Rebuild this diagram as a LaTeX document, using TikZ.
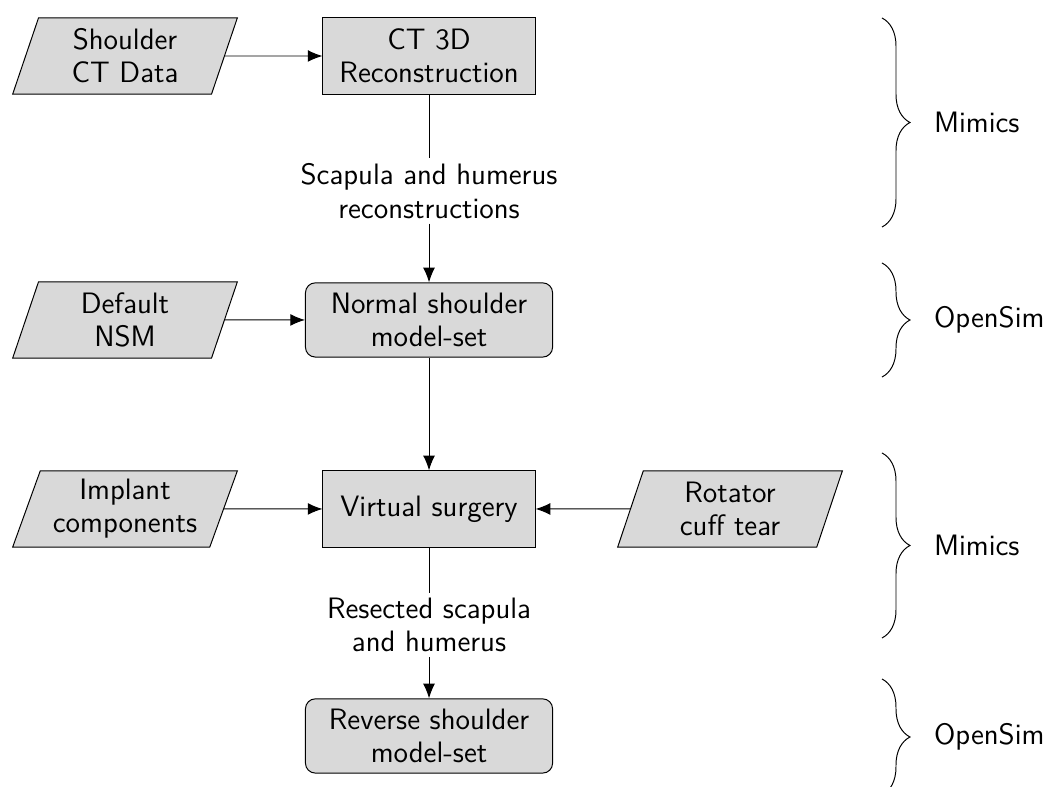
\documentclass[tikz,border=0pt]{standalone}
\usepackage{tikz}
\usetikzlibrary{shapes.geometric, arrows.meta, decorations.pathreplacing}

\begin{document}
\begin{tikzpicture}[
        font=\fontsize{12}{13.5}\selectfont\sffamily,
        >={Latex[length=2.1mm, width=1.7mm]},
        process/.style={rectangle, draw, fill=gray!30, minimum width=3.03cm, minimum height=1.09cm, align=center},
        model/.style={rectangle, rounded corners=4pt, draw, fill=gray!30, minimum width=3.53cm, minimum height=1.06cm, align=center},
        io/.style={trapezium, trapezium left angle=70, trapezium right angle=110, trapezium stretches body, draw, fill=gray!30, minimum width=3.21cm, minimum height=1.09cm, align=center},
        note/.style={align=center, inner sep=2pt},
        grp/.style={decorate, decoration={brace, amplitude=0.4cm}}]
                \useasboundingbox (0,0) rectangle (14.943,-11.229);
                \node[io] (ctdata) at (1.786,-0.8) {Shoulder\\CT Data};
                \node[process] (recon) at (6.129,-0.8) {CT 3D\\Reconstruction};
                \node[note] (bones) at (6.129,-2.729) {Scapula and humerus\\reconstructions};
                \node[model] (normal) at (6.129,-4.571) {Normal shoulder\\model-set};
                \node[io] (nsm) at (1.786,-4.571) {Default\\NSM};
                \node[process] (surgery) at (6.129,-7.271) {Virtual surgery};
                \node[io] (implant) at (1.786,-7.271) {Implant\\components};
                \node[io] (cuff) at (10.429,-7.271) {Rotator\\cuff tear};
                \node[note] (resected) at (6.129,-8.929) {Resected scapula\\and humerus};
                \node[model] (reverse) at (6.129,-10.514) {Reverse shoulder\\model-set};
                \draw[->] (ctdata) -- (recon);
                \draw (recon) -- (bones);
                \draw[->] (bones) -- (normal);
                \draw[->] (nsm) -- (normal);
                \draw[->] (normal) -- (surgery);
                \draw[->] (implant) -- (surgery);
                \draw[->] (cuff) -- (surgery);
                \draw (surgery) -- (resected);
                \draw[->] (resected) -- (reverse);
                \draw[grp] (12.6,-0.257) -- (12.6,-3.243) node[midway, right=0.62cm] (mimicsA) {Mimics};
                \draw[grp] (12.6,-3.757) -- (12.6,-5.386) node[midway, right=0.62cm] (opensimA) {OpenSim};
                \draw[grp] (12.6,-6.471) -- (12.6,-9.114) node[midway, right=0.62cm] (mimicsB) {Mimics};
                \draw[grp] (12.6,-9.7) -- (12.6,-11.357) node[midway, right=0.62cm] (opensimB) {OpenSim};
            \end{tikzpicture}
\end{document}
